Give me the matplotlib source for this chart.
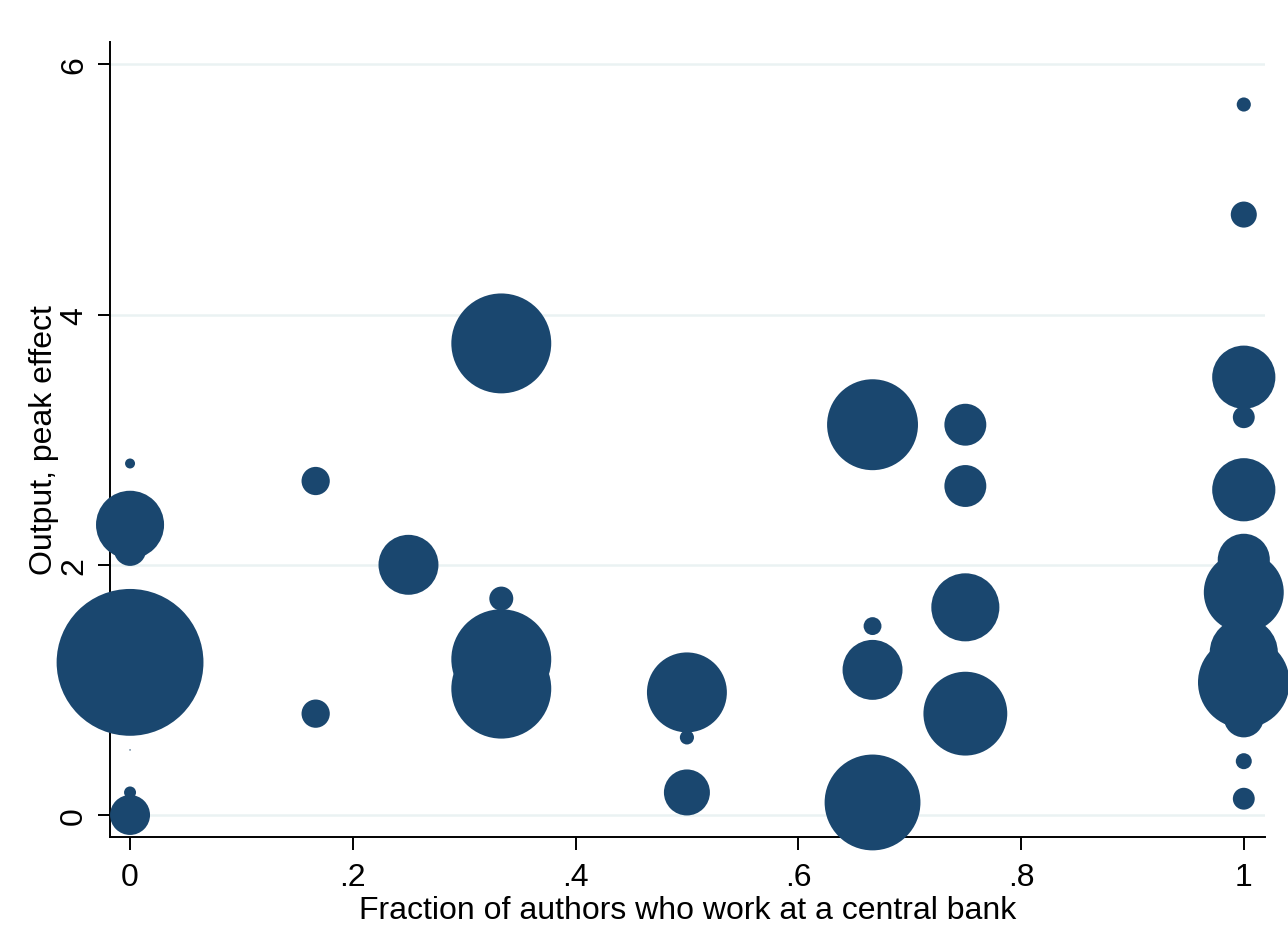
import matplotlib.pyplot as plt
import numpy as np

# share of central-bank authors, peak output effect, and weight (bubble area)
frac_cb = [0, 0, 0, 0, 0, 0, 0,
           1/6, 1/6,
           0.25,
           1/3, 1/3, 1/3, 1/3,
           0.5, 0.5, 0.5,
           2/3, 2/3, 2/3, 2/3,
           0.75, 0.75, 0.75, 0.75,
           1, 1, 1, 1, 1, 1, 1, 1, 1, 1, 1, 1, 1]
peak_effect = [2.81, 2.32, 2.12, 1.22, 0.52, 0.18, 0.00,
               2.67, 0.81,
               2.00,
               3.77, 1.73, 1.245, 1.01,
               0.98, 0.62, 0.18,
               3.12, 1.51, 1.16, 0.10,
               3.12, 2.63, 1.66, 0.81,
               5.68, 4.80, 3.50, 3.18, 2.80, 2.60, 2.04, 1.78, 1.30, 1.06, 0.78, 0.43, 0.13]
weight = [0.25, 11.6, 2.6, 54.0, 0.005, 0.36, 4.0,
          2.0, 2.0,
          9.0,
          25.0, 1.44, 25.0, 25.0,
          16.0, 0.5, 5.3,
          20.7, 0.8, 9.0, 23.0,
          4.4, 4.4, 11.6, 17.6,
          0.5, 1.7, 10.0, 1.2, 0.16, 10.0, 6.8, 16.0, 11.6, 21.0, 4.0, 0.64, 1.2]

xticks = [0, 0.2, 0.4, 0.6, 0.8, 1]
xtick_labels = ['0', '.2', '.4', '.6', '.8', '1']
yticks = [0, 2, 4, 6]

navy = '#1a476f'
plt.rcParams['font.family'] = ['Liberation Sans', 'DejaVu Sans']

fig = plt.figure(figsize=(12.88, 9.28), dpi=100)
ax = fig.add_axes([0.0854, 0.097, 0.8967, 0.8567])

ax.scatter(frac_cb, peak_effect, s=np.array(weight) * 207, color=navy,
           edgecolors='none', clip_on=False, zorder=3)

ax.set_xlim(-0.018, 1.019)
ax.set_ylim(-0.176, 6.18)

ax.set_xticks(xticks, xtick_labels)
ax.set_yticks(yticks)
ax.tick_params(axis='both', labelsize=23, length=9, width=1.4)
ax.tick_params(axis='x', pad=9)
ax.tick_params(axis='y', pad=6)
for lab in ax.get_yticklabels():
    lab.set_rotation(90)
    lab.set_va('center')

ax.grid(axis='y', color='#eaf2f3', linewidth=1.8, zorder=0)
ax.set_axisbelow(True)
for side in ['top', 'right']:
    ax.spines[side].set_visible(False)
for side in ['left', 'bottom']:
    ax.spines[side].set_linewidth(1.4)

ax.set_xlabel('Fraction of authors who work at a central bank', fontsize=23, labelpad=2)
ax.set_ylabel('Output, peak effect', fontsize=23, labelpad=0)

fig.savefig('out.png', dpi=100)
